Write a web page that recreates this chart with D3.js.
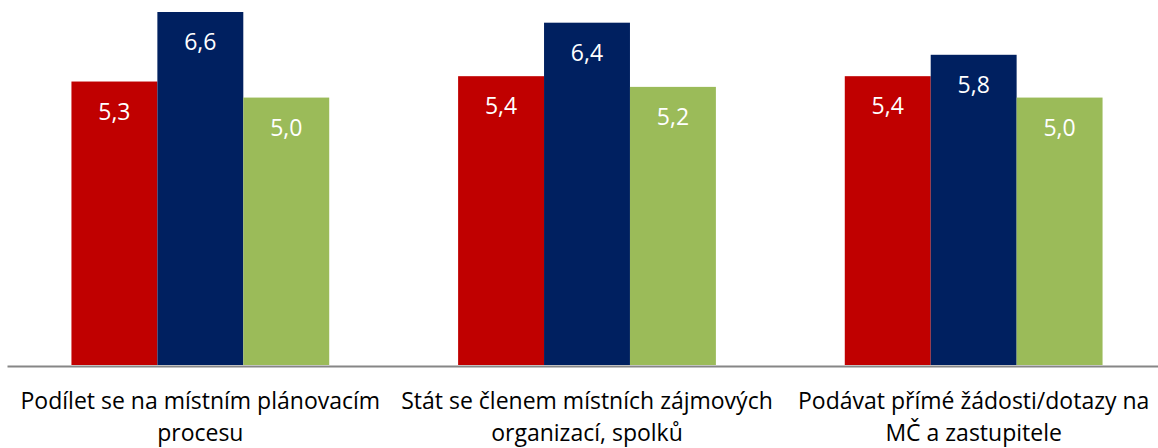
<!DOCTYPE html>
<html>
<head>
<meta charset="utf-8">
<script src="https://cdn.jsdelivr.net/npm/d3@7"></script>
<style>
  body { margin: 0; background: #fff; }
  svg { display: block; font-family: "Open Sans", "Noto Sans", sans-serif; }
</style>
</head>
<body>
<svg id="chart"></svg>
<script>
// categories (each split into its two label lines)
var categories = [
    ["Podílet se na místním plánovacím", "procesu"],
    ["Stát se členem místních zájmových", "organizací, spolků"],
    ["Podávat přímé žádosti/dotazy na", "MČ a zastupitele"]
];
var series = ["s1", "s2", "s3"];
var s1 = [5.3, 5.4, 5.4];
var s2 = [6.6, 6.4, 5.8];
var s3 = [5.0, 5.2, 5.0];
var colors = ["#C00000", "#002060", "#9BBB59"];

var width = 1158, height = 448;
var svg = d3.select("#chart").attr("width", width).attr("height", height);

// plot area runs a bit past the right edge, as in the original
var x0 = d3.scaleBand().domain(d3.range(categories.length)).range([7, 1167]).paddingInner(0).paddingOuter(0);
// gap width 150%
var x1 = d3.scaleBand().domain(series).range([0, x0.bandwidth()]).paddingInner(0).paddingOuter(0.75);
var y = d3.scaleLinear().domain([0, 6.6]).range([365, 12]);

var values = [s1, s2, s3];
var rows = [];
categories.forEach(function (c, i) {
    series.forEach(function (s, j) {
        rows.push({ cat: i, s: s, v: values[j][i], color: colors[j] });
    });
});

var g = svg.append("g");

g.selectAll("rect")
    .data(rows)
    .join("rect")
    .attr("x", d => x0(d.cat) + x1(d.s))
    .attr("y", d => y(d.v))
    .attr("width", x1.bandwidth())
    .attr("height", d => y(0) - y(d.v))
    .style("fill", d => d.color);

// value labels inside end
g.selectAll(".val")
    .data(rows)
    .join("text")
    .attr("class", "val")
    .attr("x", d => x0(d.cat) + x1(d.s) + x1.bandwidth() / 2)
    .attr("y", d => y(d.v) + 30)
    .attr("dy", "0.35em")
    .attr("text-anchor", "middle")
    .style("fill", "#fff")
    .style("font-size", "23px")
    .text(d => d3.format(".1f")(d.v).replace(".", ","));

// x axis
var axis = g.append("g")
    .attr("transform", `translate(0, ${y(0) + 1})`)
    .call(d3.axisBottom(x0).tickSize(0).tickFormat(""));
axis.select(".domain").attr("stroke", "#868686").attr("stroke-width", 2);

// category labels
var lab = g.selectAll(".cat")
    .data(categories)
    .join("text")
    .attr("class", "cat")
    .attr("text-anchor", "middle")
    .style("fill", "#000")
    .style("font-size", "23px");
lab.selectAll("tspan")
    .data((d, i) => d.map(t => ({ t: t, i: i })))
    .join("tspan")
    .attr("x", d => x0(d.i) + x0.bandwidth() / 2)
    .attr("y", (d, k) => 409 + k * 32)
    .text(d => d.t);
</script>
</body>
</html>
